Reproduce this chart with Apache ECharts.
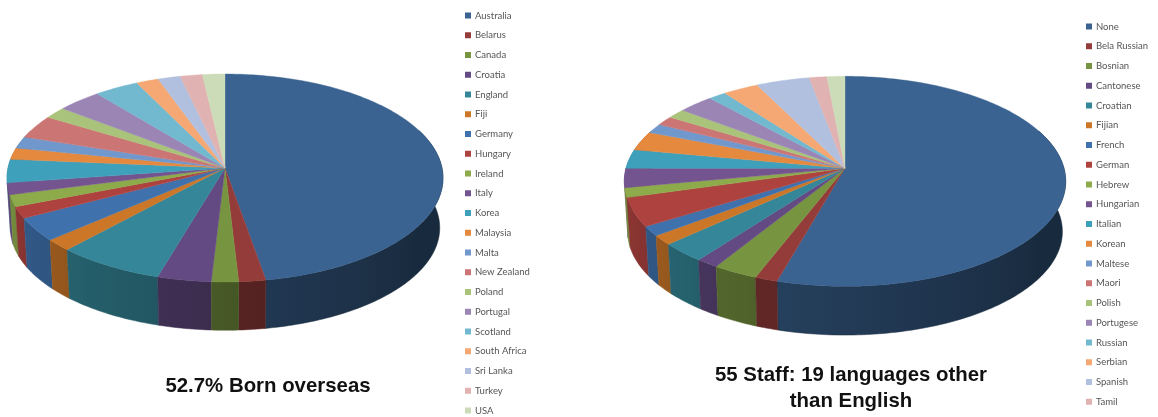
<!DOCTYPE html>
<html>
<head>
<meta charset="utf-8">
<style>html,body{margin:0;padding:0;background:#fff}#chart{width:1158px;height:417px}</style>
<script src="https://cdn.jsdelivr.net/npm/echarts@6/dist/echarts.min.js"></script>
</head>
<body>
<div id="chart"></div>
<script>
// Staff counts by country of birth
var countries = ['Australia','Belarus','Canada','Croatia','England','Fiji','Germany','Hungary','Ireland','Italy','Korea','Malaysia','Malta','New Zealand','Poland','Portugal','Scotland','South Africa','Sri Lanka','Turkey','USA'];
var countryStaff = [26,1,1,2,4,1,2,1,1,1,2,1,1,2,1,2,2,1,1,1,1];

// Staff counts by language; the final slice has no key entry
var languages = ['None','Bela Russian','Bosnian','Cantonese','Croatian','Fijian','French','German','Hebrew','Hungarian','Italian','Korean','Maltese','Maori','Polish','Portugese','Russian','Serbian','Spanish','Tamil'];
var languageStaff = [37,1,2,1,2,1,1,3,1,2,2,2,1,1,1,2,1,2,3,1,1];

var palette = ['#3A6391','#943C3A','#779440','#634A82','#348698','#CC7728','#3F72AD','#AD423F','#8DAB4B','#74548F','#3FA0BB','#E4893E','#7198CC','#CC7575','#A9C47A','#9A85B5','#72B8CF','#F5A873','#B0C0DE','#E0B2B2','#CCDBB8'];

// Tilted-disc geometry: hub position, radii, perspective and wall height
var leftDisc  = {cx:225, hubY:168,   rx:217, ry:103,   persp:0.096, wall:50,   baseScale:0.985};
var rightDisc = {cx:845, hubY:168.3, rx:219, ry:103.4, persp:0.124, wall:50.5, baseScale:0.985};

function rimPoint(d, deg, scale, drop) {
  var a = deg * Math.PI / 180, w = 1 + d.persp * Math.cos(a);
  return [d.cx + d.rx * scale * Math.sin(a) / w, d.hubY + drop - d.ry * scale * Math.cos(a) / w];
}
function arcDegrees(from, to) {
  var out = [], n = Math.max(2, Math.ceil(to - from));
  for (var i = 0; i <= n; i++) out.push(from + (to - from) * i / n);
  return out;
}
// The wall darkens toward the right, lit from the front left
function wallShade(deg) {
  if (deg <= 120) return 0.42;
  if (deg <= 195) return 0.42 + (deg - 120) / 75 * 0.22;
  return Math.min(0.85, 0.64 + (deg - 195) / 70 * 0.21);
}
function shadeColor(hex, f) {
  var n = parseInt(hex.slice(1), 16);
  return 'rgb(' + Math.round((n >> 16) * f) + ',' + Math.round(((n >> 8) & 255) * f) + ',' + Math.round((n & 255) * f) + ')';
}
function wallShape(d, from, to, color) {
  var lo = Math.max(from, 68), hi = Math.min(to, 292);
  if (hi <= lo) return null;
  var degs = arcDegrees(lo, hi);
  var top = degs.map(function (t) { return rimPoint(d, t, 1, 0); });
  var base = degs.map(function (t) { return rimPoint(d, t, d.baseScale, d.wall); }).reverse();
  var pts = top.concat(base);
  var xs = pts.map(function (p) { return p[0]; });
  var minX = Math.min.apply(null, xs), maxX = Math.max.apply(null, xs), span = Math.max(maxX - minX, 1);
  var stops = [];
  for (var i = 0; i <= 8; i++) {
    var t = lo + (hi - lo) * i / 8;
    stops.push({offset: (rimPoint(d, t, 1, 0)[0] - minX) / span, color: shadeColor(color, wallShade(t))});
  }
  stops.sort(function (a, b) { return a.offset - b.offset; });
  return {
    type: 'polygon', shape: {points: pts},
    style: {fill: new echarts.graphic.LinearGradient(0, 0, 1, 0, stops), stroke: shadeColor(color, wallShade((lo + hi) / 2)), lineWidth: 0.5},
    z2: 1000 - Math.round(Math.abs(180 - (lo + hi) / 2))
  };
}
function faceShape(d, from, to, color) {
  var pts = [[d.cx, d.hubY]].concat(arcDegrees(from, to).map(function (t) { return rimPoint(d, t, 1, 0); }));
  return {type: 'polygon', shape: {points: pts}, style: {fill: color, stroke: color, lineWidth: 0.4}, z2: 2000};
}
function discSeries(disc, names, values) {
  var total = values.reduce(function (s, v) { return s + v; }, 0), run = 0;
  return values.map(function (v, i) {
    var from = run / total * 360;
    run += v;
    var to = run / total * 360, color = palette[i];
    return {
      type: 'custom', name: names[i] || 'slice ' + (i + 1), coordinateSystem: 'none',
      silent: true, animation: false, itemStyle: {color: color},
      data: [[v]],
      renderItem: function () {
        var wall = wallShape(disc, from, to, color);
        var kids = wall ? [wall] : [];
        kids.push(faceShape(disc, from, to, color));
        return {type: 'group', children: kids};
      }
    };
  });
}

var keyText = {color: '#555', fontSize: 9.5, fontFamily: 'Lato'};
var chart = echarts.init(document.getElementById('chart'), null, {renderer: 'canvas'});
chart.setOption({
  animation: false,
  backgroundColor: '#fff',
  title: [
    {text: '52.7% Born overseas', left: 263, top: 371, textAlign: 'center',
     textStyle: {fontFamily: 'Liberation Sans', fontWeight: 'bold', fontSize: 20.4, color: '#111'}},
    {text: '55 Staff: 19 languages other\nthan English', left: 846, top: 357, textAlign: 'center',
     textStyle: {fontFamily: 'Liberation Sans', fontWeight: 'bold', fontSize: 20.4, color: '#111', lineHeight: 26}}
  ],
  legend: [
    {data: countries, orient: 'vertical', left: 465, top: 9.5, height: 430, icon: 'rect', itemWidth: 6, itemHeight: 6,
     itemGap: 7.75, padding: 0, selectedMode: false, textStyle: Object.assign({padding: [0, 0, 0, -1], lineHeight: 12, height: 12}, keyText)},
    {data: languages, orient: 'vertical', left: 1086, top: 20.5, height: 430, icon: 'rect', itemWidth: 6, itemHeight: 6,
     itemGap: 7.75, padding: 0, selectedMode: false, textStyle: Object.assign({padding: [0, 0, 0, -1], lineHeight: 12, height: 12}, keyText)}
  ],
  series: discSeries(leftDisc, countries, countryStaff).concat(discSeries(rightDisc, languages, languageStaff))
});
</script>
</body>
</html>
